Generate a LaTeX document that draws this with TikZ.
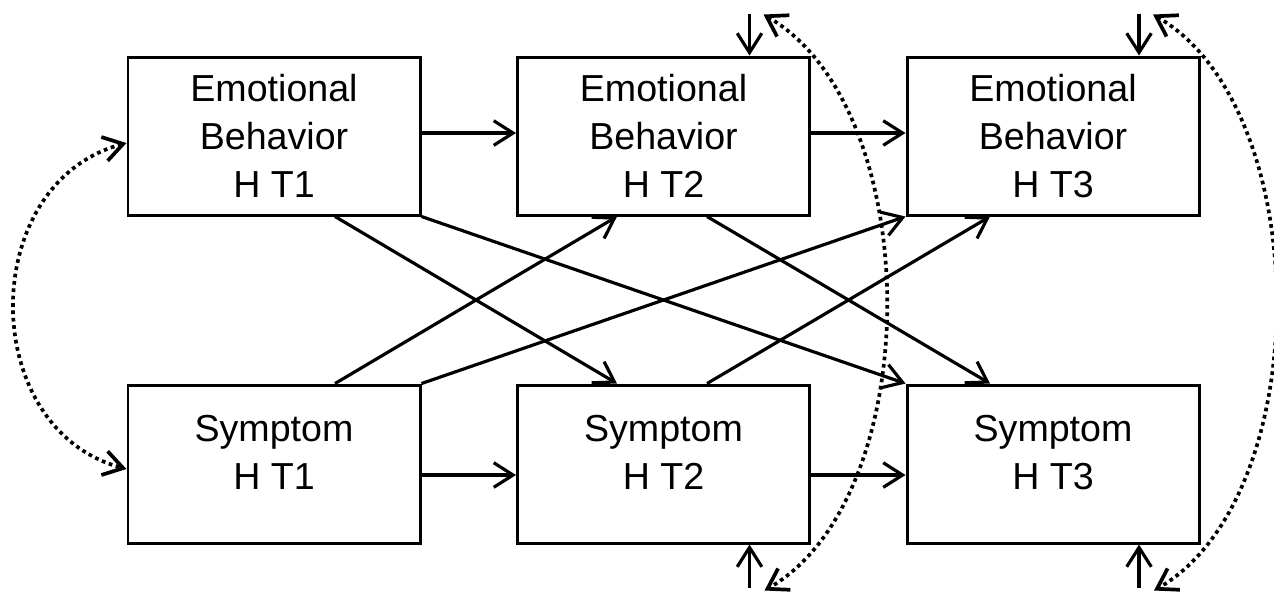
\documentclass[tikz,border=0pt]{standalone}
\usepackage{fontspec}
\setmainfont{Liberation Sans}
\usetikzlibrary{arrows.meta}
\newcommand{\widthbox}{2.92cm}
\newcommand{\heightbox}{1.58cm}
\newcommand{\stepx}{3.895cm}
\newcommand{\stepy}{3.28cm}
\tikzset{
    >={Straight Barb[length=5.5pt, width=7pt]},
    box/.style={draw, rectangle, line width=0.85pt, minimum width=\widthbox, minimum height=\heightbox,
        align=center, inner sep=0pt, font=\fontsize{10.7}{13.7}\selectfont},
    symbox/.style={box, text depth=0.24cm},
    link/.style={->, line width=0.9pt},
    corr/.style={<->, line width=1.05pt, dash pattern=on 1.05pt off 1.05pt}
}
\begin{document}
\begin{tikzpicture}
        \useasboundingbox (0,0) rectangle (12.74,-5.99);
        \path
            (2.74,-1.36) node[box] (emo1) {Emotional\\Behavior\\H T1}
            to ++(0:\stepx) node[box] (emo2) {Emotional\\Behavior\\H T2}
            to ++(0:\stepx) node[box] (emo3) {Emotional\\Behavior\\H T3};

        \path
            (2.74,-1.36) to ++(270:\stepy) node[symbox] (sym1) {Symptom\\H T1}
            to ++(0:\stepx) node[symbox] (sym2) {Symptom\\H T2}
            to ++(0:\stepx) node[symbox] (sym3) {Symptom\\H T3};

        % stability paths
        \draw[link] ([yshift=0.03cm]emo1.east) -- ([yshift=0.03cm]emo2.west);
        \draw[link] ([yshift=0.03cm]emo2.east) -- ([yshift=0.03cm]emo3.west);
        \draw[link] ([yshift=-0.11cm]sym1.east) -- ([yshift=-0.11cm]sym2.west);
        \draw[link] ([yshift=-0.11cm]sym2.east) -- ([yshift=-0.11cm]sym3.west);

        % cross-lagged paths
        \draw[link] ([xshift=0.61cm]emo1.south) -- ([xshift=-0.465cm]sym2.north);
        \draw[link] ([xshift=0.61cm]sym1.north) -- ([xshift=-0.465cm]emo2.south);
        \draw[link] (emo1.south east) -- (sym3.north west);
        \draw[link] (sym1.north east) -- (emo3.south west);
        \draw[link] ([xshift=0.435cm]emo2.south) -- ([xshift=-0.63cm]sym3.north);
        \draw[link] ([xshift=0.435cm]sym2.north) -- ([xshift=-0.63cm]emo3.south);

        % residuals
        \coordinate (res2top) at ([xshift=0.86cm, yshift=0.42cm]emo2.north);
        \coordinate (res3top) at ([xshift=0.86cm, yshift=0.42cm]emo3.north);
        \coordinate (res2bot) at ([xshift=0.86cm, yshift=-0.43cm]sym2.south);
        \coordinate (res3bot) at ([xshift=0.86cm, yshift=-0.43cm]sym3.south);
        \draw[link] (res2top) -- ([xshift=0.86cm]emo2.north);
        \draw[link] (res3top) -- ([xshift=0.86cm]emo3.north);
        \draw[link] (res2bot) -- ([xshift=0.86cm]sym2.south);
        \draw[link] (res3bot) -- ([xshift=0.86cm]sym3.south);

        % correlations
        \coordinate (cor2top) at ([xshift=1.0cm, yshift=0.41cm]emo2.north);
        \coordinate (cor3top) at ([xshift=1.0cm, yshift=0.41cm]emo3.north);
        \coordinate (cor2bot) at ([xshift=1.01cm, yshift=-0.46cm]sym2.south);
        \coordinate (cor3bot) at ([xshift=1.01cm, yshift=-0.46cm]sym3.south);
        \draw[corr] ([yshift=-0.07cm]emo1.west) .. controls +(195:1.55) and +(165:1.55) .. ([yshift=-0.05cm]sym1.west);
        \draw[corr] (cor2top) .. controls +(-30:1.88) and +(30:1.88) .. (cor2bot);
        \draw[corr] (cor3top) .. controls +(-30:1.88) and +(30:1.88) .. (cor3bot);
    \end{tikzpicture}
\end{document}
